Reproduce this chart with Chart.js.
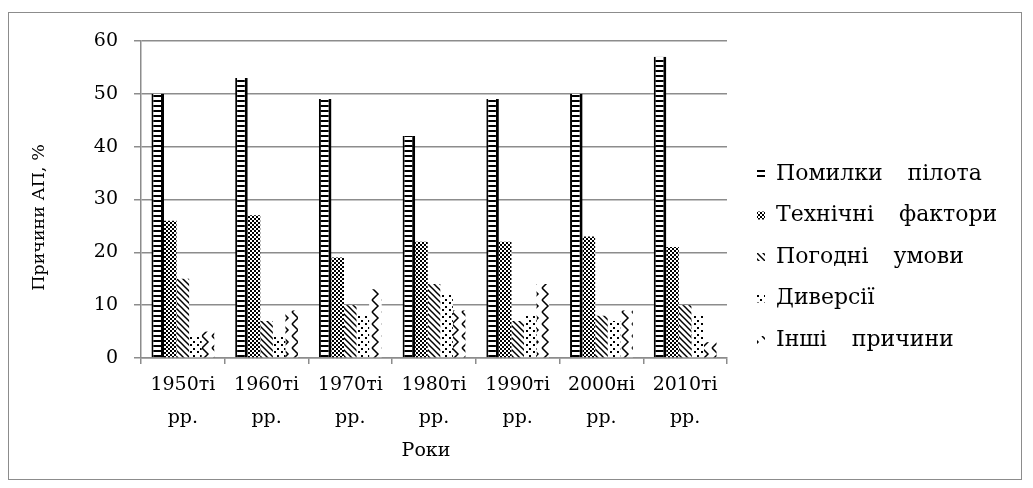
<!DOCTYPE html>
<html>
<head>
<meta charset="utf-8">
<script src="https://cdn.jsdelivr.net/npm/chart.js@4.4.1/dist/chart.umd.min.js"></script>
<style>
  html, body { margin: 0; padding: 0; background: #fff; }
  #wrap { position: relative; width: 1033px; height: 488px; }
  #frame { position: absolute; left: 8px; top: 12px; width: 1014px; height: 468px; border: 1px solid #8c8c8c; box-sizing: border-box; }
  canvas { position: absolute; left: 0; top: 0; }
</style>
</head>
<body>
<div id="wrap">
  <div id="frame"></div>
  <canvas id="myChart" width="1033" height="488"></canvas>
</div>
<script>
// Дані з діаграми (частка причин АП, %)
const decades = [
  ['1950ті', 'рр.'], ['1960ті', 'рр.'], ['1970ті', 'рр.'], ['1980ті', 'рр.'],
  ['1990ті', 'рр.'], ['2000ні', 'рр.'], ['2010ті', 'рр.']
];
const seriesNames = ['Помилки пілота', 'Технічні фактори', 'Погодні умови', 'Диверсії', 'Інші причини'];
const pilotErrors = [50, 53, 49, 42, 49, 50, 57];
const technicalFactors = [26, 27, 19, 22, 22, 23, 21];
const weatherConditions = [15, 7, 10, 14, 7, 8, 10];
const sabotage = [4, 4, 8, 12, 8, 7, 8];
const otherCauses = [5, 9, 13, 9, 14, 9, 3];
const yMin = 0, yMax = 60, yStep = 10;
const yTitle = 'Причини АП, %';
const xTitle = 'Роки';

const FONT = "'DejaVu Serif', serif";

function makePattern(w, h, draw) {
  const c = document.createElement('canvas');
  c.width = w; c.height = h;
  const g = c.getContext('2d');
  g.fillStyle = '#fff';
  g.fillRect(0, 0, w, h);
  g.fillStyle = '#000';
  g.strokeStyle = '#000';
  draw(g);
  return c.getContext('2d').createPattern(c, 'repeat');
}

// штрихування як у Word
const ladder = makePattern(8, 5, g => { g.fillRect(0, 0, 8, 2); });
const checker = makePattern(4, 4, g => { g.fillRect(0, 0, 2, 2); g.fillRect(2, 2, 2, 2); });
const diagonal = makePattern(6, 6, g => {
  g.lineWidth = 1.5;
  g.beginPath(); g.moveTo(-1, -1); g.lineTo(7, 7); g.stroke();
  g.beginPath(); g.moveTo(-1, 5); g.lineTo(1, 7); g.stroke();
  g.beginPath(); g.moveTo(5, -1); g.lineTo(7, 1); g.stroke();
});
const dots = makePattern(7, 7, g => { g.fillRect(1, 1, 2, 2); g.fillRect(4, 5, 2, 2); });
const zigzag = makePattern(10, 12, g => {
  g.lineWidth = 1.5;
  g.beginPath(); g.moveTo(2, 0); g.lineTo(8, 6); g.lineTo(2, 12); g.stroke();
});
const fills = [ladder, checker, diagonal, dots, zigzag];

// підгонка легенди та підписів осей під оригінал
const tweaks = {
  id: 'tweaks',
  beforeUpdate(chart) {
    const lg = chart.legend;
    if (!lg || lg._patched) return;
    const fit = lg.fit;
    lg.fit = function () { fit.call(this); this.width = 306; };
    const draw = lg.draw;
    lg.draw = function () {
      const c = this.ctx;
      c.save();
      c.wordSpacing = '18px';
      draw.apply(this, arguments);
      c.restore();
    };
    lg._patched = true;
  },
  afterUpdate(chart) {
    const shift = { y: [0, 18], x: [-8, 0] };
    Object.keys(shift).forEach(id => {
      const s = chart.scales[id];
      if (!s || s._patched) return;
      const dt = s.drawTitle;
      s.drawTitle = function () {
        this.ctx.save();
        this.ctx.translate(shift[id][0], shift[id][1]);
        dt.apply(this, arguments);
        this.ctx.restore();
      };
      s._patched = true;
    });
  }
};

const ctx = document.getElementById('myChart');
const allData = [pilotErrors, technicalFactors, weatherConditions, sabotage, otherCauses];

new Chart(ctx, {
  type: 'bar',
  data: {
    labels: decades,
    datasets: allData.map((d, i) => ({
      label: seriesNames[i],
      data: d,
      backgroundColor: fills[i],
      borderColor: '#000',
      borderWidth: i === 0 ? { left: 2, right: 3, top: 0, bottom: 0 } : 0,
      borderSkipped: false,
      categoryPercentage: 0.75,
      barPercentage: 1
    }))
  },
  options: {
    responsive: false,
    animation: false,
    events: [],
    layout: { padding: { left: 0, right: 0, top: 41, bottom: 25.5 } },
    scales: {
      x: {
        grid: { display: true, drawOnChartArea: false, drawTicks: true, tickLength: 6, color: '#8c8c8c', lineWidth: 1.5 },
        border: { display: true, color: '#8c8c8c', width: 1.5 },
        ticks: { color: '#000', padding: 4.5, font: { family: FONT, size: 19, lineHeight: '33px' }, maxRotation: 0, autoSkip: false },
        title: { display: true, text: xTitle, color: '#000', font: { family: FONT, size: 19, lineHeight: 1.2 }, padding: { top: 0, bottom: 0 } },
        afterFit(scale) { scale.height = 104.5; }
      },
      y: {
        min: yMin,
        max: yMax,
        grid: { color: '#8c8c8c', lineWidth: 1.5, tickLength: 7 },
        border: { display: true, color: '#8c8c8c', width: 1.5 },
        ticks: { stepSize: yStep, color: '#000', padding: 16, font: { family: FONT, size: 19 } },
        title: { display: true, text: yTitle, color: '#000', font: { family: FONT, size: 17.5, lineHeight: 1.2 }, padding: { top: 29, bottom: 0 } },
        afterFit(scale) { scale.width = 141; }
      }
    },
    plugins: {
      legend: {
        position: 'right',
        align: 'center',
        labels: {
          color: '#000',
          boxWidth: 8,
          boxHeight: 8,
          padding: 30,
          font: { family: FONT, size: 22, lineHeight: '11.5px' },
          generateLabels(chart) {
            return chart.data.datasets.map((ds, i) => ({
              text: [ds.label],
              fillStyle: fills[i],
              strokeStyle: '#000',
              lineWidth: 0,
              hidden: false,
              datasetIndex: i
            }));
          }
        }
      },
      tooltip: { enabled: false }
    }
  },
  plugins: [tweaks]
});
</script>
</body>
</html>
